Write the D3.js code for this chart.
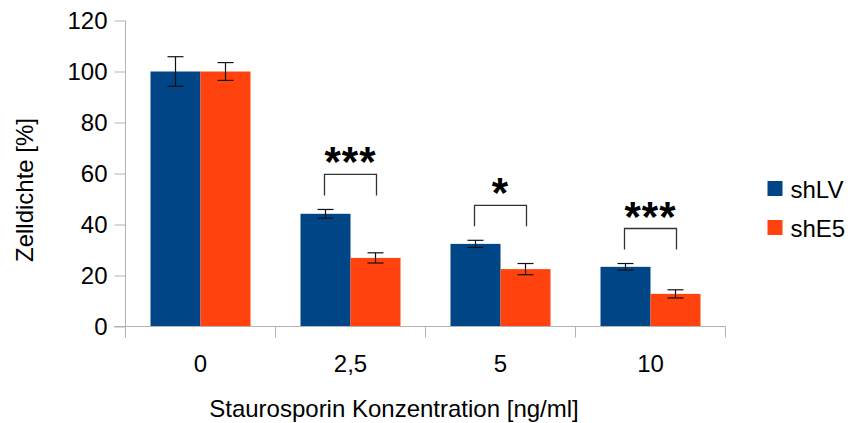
<!DOCTYPE html>
<html>
<head>
<meta charset="utf-8">
<script src="https://cdn.jsdelivr.net/npm/d3@7"></script>
<style>
  html, body { margin: 0; padding: 0; background: #fff; }
  svg { display: block; font-family: "Liberation Sans", Arial, sans-serif; }
</style>
</head>
<body>
<svg id="chart" width="855" height="423"></svg>
<script>
// Cell density after staurosporine treatment, control vs. knockdown
const categories = ["0", "2,5", "5", "10"];
const seriesNames = ["shLV", "shE5"];
const shLV = [100, 44.2, 32.4, 23.4];
const shE5 = [100, 26.9, 22.5, 12.8];
const shLVErr = [5.8, 1.7, 1.4, 1.3];
const shE5Err = [3.5, 2.0, 2.2, 1.6];
const significance = ["", "***", "*", "***"];
const yTicks = [0, 20, 40, 60, 80, 100, 120];
const colors = ["#004586", "#ff420e"];

const svg = d3.select("#chart");
const axisColor = "#b3b3b3";

const x0 = d3.scaleBand().domain(categories).range([125.5, 725.5]).padding(0);
const x1 = d3.scaleBand().domain(seriesNames).range([25, 125]).padding(0);
const y = d3.scaleLinear().domain([0, 120]).range([326.5, 20.5]);

const rows = categories.map((c, i) => ({
  cat: c,
  sig: significance[i],
  bars: [
    { name: "shLV", value: shLV[i], err: shLVErr[i] },
    { name: "shE5", value: shE5[i], err: shE5Err[i] }
  ]
}));

// Y axis
const yAxis = d3.axisLeft(y).tickValues(yTicks).tickSize(11).tickPadding(7);
const gy = svg.append("g").attr("transform", "translate(125.5,0)").call(yAxis);
gy.select(".domain").remove();
gy.selectAll(".tick line").attr("stroke", axisColor);
gy.selectAll(".tick text")
  .attr("font-size", 24).attr("fill", "#000")
  .attr("font-family", "'Liberation Sans', Arial, sans-serif");
gy.append("line").attr("x1", 0).attr("x2", 0)
  .attr("y1", y(120)).attr("y2", y(0) + 11).attr("stroke", axisColor);

// Bars
const groups = svg.append("g").selectAll("g.cat").data(rows).join("g")
  .attr("class", "cat")
  .attr("transform", d => `translate(${x0(d.cat)},0)`);

groups.selectAll("rect").data(d => d.bars).join("rect")
  .attr("x", d => x1(d.name))
  .attr("width", x1.bandwidth())
  .attr("y", d => y(d.value))
  .attr("height", d => y(0) - y(d.value))
  .attr("fill", (d, i) => colors[i]);

// X axis with category boundary ticks
const xAxisG = svg.append("g");
xAxisG.append("line").attr("x1", 114).attr("x2", 725.5)
  .attr("y1", y(0)).attr("y2", y(0)).attr("stroke", axisColor);
const bounds = categories.map(c => x0(c)).concat([x0.range()[1]]);
xAxisG.selectAll("line.b").data(bounds).join("line").attr("class", "b")
  .attr("x1", d => d).attr("x2", d => d)
  .attr("y1", y(0)).attr("y2", y(0) + 11).attr("stroke", axisColor);
xAxisG.selectAll("text").data(categories).join("text")
  .attr("x", d => x0(d) + x0.bandwidth() / 2)
  .attr("y", 371.5)
  .attr("text-anchor", "middle")
  .attr("font-size", 24)
  .text(d => d);

// Error bars
const cap = 8;
const eb = groups.selectAll("g.err").data(d => d.bars).join("g").attr("class", "err")
  .attr("stroke", "#111").attr("stroke-width", 1.2);
eb.append("line")
  .attr("x1", d => x1(d.name) + x1.bandwidth() / 2)
  .attr("x2", d => x1(d.name) + x1.bandwidth() / 2)
  .attr("y1", d => y(d.value + d.err)).attr("y2", d => y(d.value - d.err));
eb.append("line")
  .attr("x1", d => x1(d.name) + x1.bandwidth() / 2 - cap)
  .attr("x2", d => x1(d.name) + x1.bandwidth() / 2 + cap)
  .attr("y1", d => y(d.value + d.err)).attr("y2", d => y(d.value + d.err));
eb.append("line")
  .attr("x1", d => x1(d.name) + x1.bandwidth() / 2 - cap)
  .attr("x2", d => x1(d.name) + x1.bandwidth() / 2 + cap)
  .attr("y1", d => y(d.value - d.err)).attr("y2", d => y(d.value - d.err));

// Significance brackets
const sigRows = groups.filter(d => d.sig !== "");
sigRows.each(function (d) {
  const g = d3.select(this);
  const top = Math.max(...d.bars.map(b => b.value + b.err));
  const yBottom = y(top) - 14;
  const yTop = yBottom - 21;
  const xl = x1("shLV") + x1.bandwidth() / 2 - 1;
  const xr = x1("shE5") + x1.bandwidth() / 2 + 1;
  g.append("path")
    .attr("d", `M${xl},${yBottom}V${yTop}H${xr}V${yBottom}`)
    .attr("fill", "none").attr("stroke", "#333").attr("stroke-width", 1.3);
  g.append("text")
    .attr("x", (xl + xr) / 2)
    .attr("y", yTop + 2)
    .attr("text-anchor", "middle")
    .attr("font-size", 42)
    .attr("font-weight", "bold")
    .attr("letter-spacing", 1)
    .text(d.sig);
});

// Axis titles
svg.append("text")
  .attr("x", 394).attr("y", 417)
  .attr("text-anchor", "middle").attr("font-size", 24)
  .text("Staurosporin Konzentration [ng/ml]");
svg.append("text")
  .attr("transform", "translate(33,190) rotate(-90)")
  .attr("text-anchor", "middle").attr("font-size", 24)
  .text("Zelldichte [%]");

// Legend
const legend = svg.append("g").selectAll("g").data(seriesNames).join("g")
  .attr("transform", (d, i) => `translate(767.5,${181 + i * 39})`);
legend.append("rect").attr("width", 15).attr("height", 15)
  .attr("fill", (d, i) => colors[i]);
legend.append("text").attr("x", 23).attr("y", 16.5)
  .attr("font-size", 24).text(d => d);
</script>
</body>
</html>
